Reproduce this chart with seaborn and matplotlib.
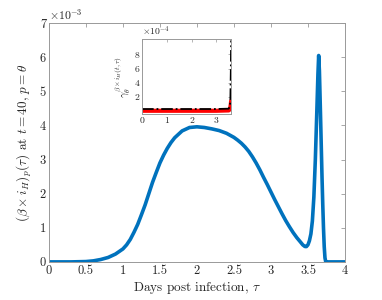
import numpy as np
import pandas as pd
import matplotlib
matplotlib.use("Agg")
import matplotlib.pyplot as plt
import seaborn as sns

# main curve, values read in units of 1e-3
tau = [0.0, 0.3, 0.5, 0.6, 0.7, 0.8, 0.9, 1.0, 1.05, 1.1, 1.15, 1.2, 1.25, 1.3,
       1.35, 1.4, 1.45, 1.5, 1.55, 1.6, 1.65, 1.7, 1.8, 1.9, 2.0, 2.1, 2.2, 2.3,
       2.4, 2.5, 2.55, 2.6, 2.65, 2.7, 2.75, 2.8, 2.85, 2.9, 2.95, 3.0, 3.05,
       3.1, 3.15, 3.2, 3.25, 3.3, 3.35, 3.4, 3.43, 3.46, 3.48, 3.5, 3.52, 3.54,
       3.56, 3.58, 3.6, 3.62, 3.635, 3.645, 3.655, 3.67, 3.68, 3.69, 3.7, 3.71,
       3.72, 3.73, 3.74, 3.76, 4.0]
bih_e3 = [0.0, 0.0, 0.01, 0.03, 0.07, 0.13, 0.23, 0.38, 0.5, 0.66, 0.87, 1.1,
          1.38, 1.67, 2.0, 2.33, 2.62, 2.9, 3.13, 3.33, 3.5, 3.64, 3.84, 3.94,
          3.96, 3.94, 3.9, 3.85, 3.77, 3.65, 3.57, 3.48, 3.37, 3.24, 3.08, 2.9,
          2.7, 2.48, 2.27, 2.05, 1.83, 1.62, 1.41, 1.21, 1.03, 0.86, 0.71, 0.58,
          0.5, 0.45, 0.45, 0.5, 0.62, 0.82, 1.2, 1.9, 3.0, 4.4, 5.5, 6.05, 5.6,
          4.3, 3.4, 2.5, 1.7, 1.0, 0.45, 0.12, 0.01, 0.0, 0.0]

# inset, values in units of 1e-4
tau_in = [0.0, 1.0, 2.0, 3.0, 3.5, 3.55, 3.57, 3.59, 3.6]
red_e4 = [0.0, 0.0, 0.0, 0.0, 0.05, 0.2, 0.5, 1.0, 1.4]
black_e4 = [0.25, 0.25, 0.25, 0.25, 0.3, 0.6, 1.5, 6.0, 10.0]

main_df = pd.DataFrame({"tau": tau, "val": np.array(bih_e3) * 1e-3})
in_df = pd.DataFrame({"tau": tau_in, "red": np.array(red_e4) * 1e-4,
                      "black": np.array(black_e4) * 1e-4})

sns.set_style("white")
plt.rcParams["font.family"] = ["cmr10", "DejaVu Serif"]
plt.rcParams["mathtext.fontset"] = "cm"
plt.rcParams["axes.formatter.use_mathtext"] = True
plt.rcParams["axes.unicode_minus"] = False

spine_c = "#999999"
txt_c = "#262626"

fig = plt.figure(figsize=(3.82, 3.0), dpi=100)
ax = fig.add_axes([0.128, 0.127, 0.775, 0.796])
sns.lineplot(data=main_df, x="tau", y="val", ax=ax, color="#0072BD", lw=2.6,
             solid_joinstyle="round", solid_capstyle="round")
ax.set_xlim(0, 4)
ax.set_ylim(0, 7e-3)
ax.set_xticks(np.arange(0, 4.01, 0.5))
ax.set_xticklabels(["0", "0.5", "1", "1.5", "2", "2.5", "3", "3.5", "4"])
ax.set_yticks(np.arange(0, 7.01e-3, 1e-3))
ax.set_yticklabels([str(i) for i in range(8)])
ax.text(0.0, 1.005, r"$\times10^{-3}$", transform=ax.transAxes, fontsize=8.5,
        color=txt_c, va="bottom", ha="left")
ax.set_xlabel(r"Days post infection, $\tau$", fontsize=9.5, color=txt_c, labelpad=2)
ax.set_ylabel(r"$(\beta\times i_H)_p(\tau)$ at $t=40,\, p=\theta$", fontsize=9.5,
              color=txt_c, labelpad=4)
for s in ax.spines.values():
    s.set_color(spine_c)
    s.set_linewidth(0.7)
ax.tick_params(direction="in", top=True, right=True, length=3, width=0.6,
               color=spine_c, labelcolor=txt_c, labelsize=9, pad=2)

ins = fig.add_axes([0.372, 0.619, 0.233, 0.251])
ins.plot(in_df["tau"], in_df["red"], color="red", lw=3)
ins.plot(in_df["tau"], in_df["black"], color="black", lw=1.3, ls="-.")
ins.set_xlim(0, 3.6)
ins.set_ylim(-0.5e-4, 10.2e-4)
ins.set_xticks([0, 1, 2, 3])
ins.set_xticklabels(["0", "1", "2", "3"])
ins.set_yticks([2e-4, 4e-4, 6e-4, 8e-4])
ins.set_yticklabels(["2", "4", "6", "8"])
ins.text(0.0, 1.01, r"$\times10^{-4}$", transform=ins.transAxes, fontsize=7,
         color=txt_c, va="bottom", ha="left")
ins.set_ylabel(r"$\gamma_\theta^{\beta\times i_H(t,\tau)}$", fontsize=7.5,
               color=txt_c, labelpad=2)
for s in ins.spines.values():
    s.set_color(spine_c)
    s.set_linewidth(0.7)
ins.tick_params(direction="in", top=True, right=True, length=2, width=0.5,
                color=spine_c, labelcolor=txt_c, labelsize=7, pad=2)

fig.savefig("out.png", dpi=100)
